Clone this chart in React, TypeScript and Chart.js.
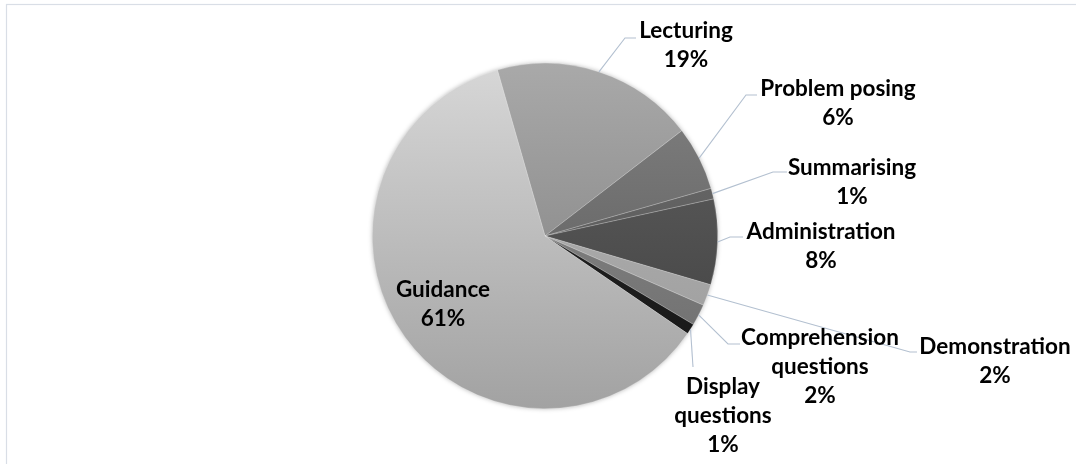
import React, { useEffect, useRef } from "react";
import { Chart, registerables } from "chart.js";

Chart.register(...registerables);

// ---- data ----
const categories = [
  "Lecturing",
  "Problem posing",
  "Summarising",
  "Administration",
  "Demonstration",
  "Comprehension questions",
  "Display questions",
  "Guidance",
];
const shares = [19, 6, 1, 8, 2, 2, 1, 61];
const labelLines = [
  ["Lecturing"],
  ["Problem posing"],
  ["Summarising"],
  ["Administration"],
  ["Demonstration"],
  ["Comprehension", "questions"],
  ["Display", "questions"],
  ["Guidance"],
];

// ---- styles ----
const sliceTop = ["#a9a9a9", "#828282", "#6e6e6e", "#626262", "#b8b8b8", "#8c8c8c", "#2a2a2a", "#d7d7d7"];
const sliceBottom = ["#7a7a7a", "#565656", "#505050", "#3e3e3e", "#999999", "#6c6c6c", "#151515", "#a2a2a2"];

// label layout: text centre (first line), leader elbow, leader end (null = inside label)
const labelLayout: any[] = [
  { x: 686, y: 31, elbow: [625, 38], end: [636, 38] },
  { x: 838, y: 89, elbow: [746, 95], end: [757, 95] },
  { x: 852, y: 168, elbow: [773, 172], end: [787, 172] },
  { x: 821, y: 232, elbow: [730, 237], end: [743, 237] },
  { x: 995, y: 347, elbow: [910, 352], end: [917, 352] },
  { x: 820, y: 338, elbow: [728, 344], end: [740, 344] },
  { x: 723, y: 387, elbow: [693, 367], end: [693, 367] },
  { x: 443, y: 290, elbow: null, end: null },
];

const FONT = "bold 22.5px Lato, 'Open Sans', sans-serif";
const LINE_H = 29;

const framePlugin = {
  id: "frame",
  beforeDraw(chart: any) {
    const ctx = chart.ctx;
    ctx.save();
    ctx.fillStyle = "#ffffff";
    ctx.fillRect(0, 0, chart.width, chart.height);
    ctx.strokeStyle = "#d9dee6";
    ctx.lineWidth = 1.2;
    ctx.strokeRect(6.5, 4.5, 1200, 600);
    ctx.restore();
  },
  beforeDatasetsDraw(chart: any) {
    const meta = chart.getDatasetMeta(0);
    const arc = meta.data[0];
    if (!arc) return;
    const ctx = chart.ctx;
    ctx.save();
    ctx.shadowColor = "rgba(0,0,0,0.35)";
    ctx.shadowBlur = 5;
    ctx.fillStyle = "#c0c0c0";
    ctx.beginPath();
    ctx.arc(arc.x, arc.y, arc.outerRadius - 0.5, 0, Math.PI * 2);
    ctx.fill();
    ctx.restore();
  },
};

const labelPlugin = {
  id: "sliceLabels",
  afterDatasetsDraw(chart: any) {
    const ctx = chart.ctx;
    const meta = chart.getDatasetMeta(0);
    const values = chart.data.datasets[0].data as number[];
    ctx.save();
    meta.data.forEach((arc: any, i: number) => {
      const lay = labelLayout[i];
      if (lay.elbow) {
        const mid = (arc.startAngle + arc.endAngle) / 2;
        const sx = arc.x + Math.cos(mid) * arc.outerRadius;
        const sy = arc.y + Math.sin(mid) * arc.outerRadius;
        ctx.strokeStyle = "#b3c0d0";
        ctx.lineWidth = 1.1;
        ctx.beginPath();
        ctx.moveTo(sx, sy);
        ctx.lineTo(lay.elbow[0], lay.elbow[1]);
        ctx.lineTo(lay.end[0], lay.end[1]);
        ctx.stroke();
      }
      const lines = [...labelLines[i], `${Math.round(values[i])}%`];
      ctx.font = FONT;
      ctx.fillStyle = "#000000";
      ctx.textAlign = "center";
      ctx.textBaseline = "middle";
      lines.forEach((t, k) => ctx.fillText(t, lay.x, lay.y + k * LINE_H));
    });
    ctx.restore();
  },
};

export default function App() {
  const ref = useRef<HTMLCanvasElement | null>(null);
  useEffect(() => {
    if (!ref.current) return;
    const cache: Record<string, any> = {};
    const chart = new Chart(ref.current, {
      type: "pie",
      data: {
        labels: categories,
        datasets: [
          {
            data: shares,
            backgroundColor: (c: any) => {
              const ch = c.chart;
              const area = ch.chartArea;
              const i = c.dataIndex;
              if (!area || i === undefined) return sliceTop[i ?? 0];
              const key = `${i}-${area.top}-${area.bottom}`;
              if (!cache[key]) {
                const g = ch.ctx.createLinearGradient(0, area.top, 0, area.bottom);
                g.addColorStop(0, sliceTop[i]);
                g.addColorStop(1, sliceBottom[i]);
                cache[key] = g;
              }
              return cache[key];
            },
            borderColor: "rgba(255,255,255,0.35)",
            borderWidth: 0.6,
          },
        ],
      },
      options: {
        responsive: false,
        animation: false,
        rotation: -16,
        layout: { padding: { left: 372, right: 358, top: 63, bottom: 55 } },
        plugins: {
          legend: { display: false },
          tooltip: { enabled: false },
          title: { display: false },
        },
      },
      plugins: [framePlugin, labelPlugin],
    });
    return () => chart.destroy();
  }, []);
  return (
    <div style={{ position: "fixed", left: 0, top: 0, width: 1076, height: 464, background: "#fff" }}>
      <canvas ref={ref} width={1076} height={464} style={{ display: "block", width: 1076, height: 464 }} />
    </div>
  );
}
